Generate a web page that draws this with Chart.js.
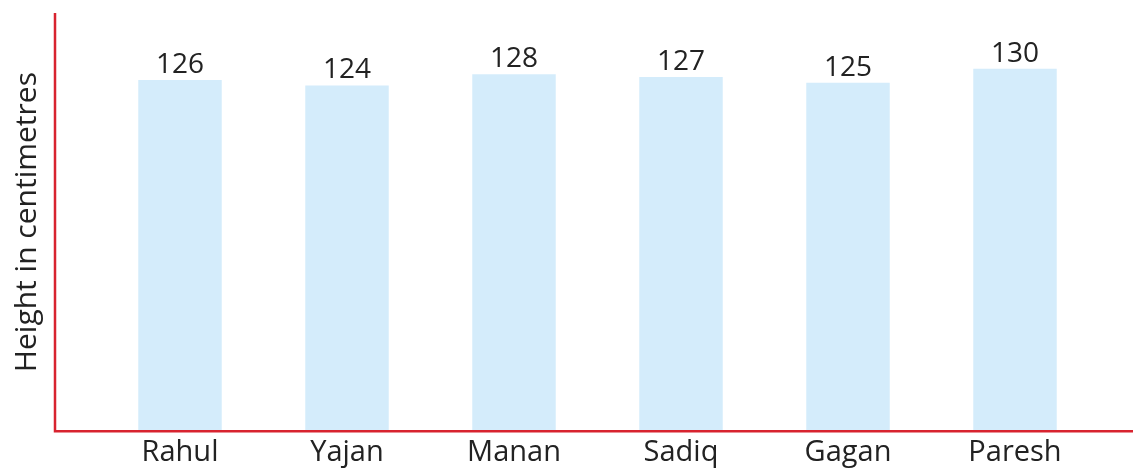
<!DOCTYPE html>
<html lang="en">
<head>
  <meta charset="UTF-8" />
  <title>Height of students</title>
  <script src="https://cdn.jsdelivr.net/npm/chart.js"></script>
  <style>
    html, body { margin: 0; padding: 0; background: #fff; }
    #wrap { width: 1133px; height: 475px; }
  </style>
</head>
<body>
  <div id="wrap"><canvas id="heightChart"></canvas></div>

  <script>
    const names = ['Rahul', 'Yajan', 'Manan', 'Sadiq', 'Gagan', 'Paresh'];
    const heights = [126, 124, 128, 127, 125, 130];
    const yTitle = 'Height in centimetres';

    const FONT = "'Open Sans', 'DejaVu Sans', sans-serif";
    const RED = '#d8232f';

    // red L-shaped axes, drawn a bit left of the plot like the book figure
    const redAxes = {
      id: 'redAxes',
      afterDraw(chart) {
        const { ctx, chartArea } = chart;
        const x0 = chartArea.left - 41.5;
        ctx.save();
        ctx.strokeStyle = RED;
        ctx.lineWidth = 2.5;
        ctx.beginPath();
        ctx.moveTo(x0, chartArea.top);
        ctx.lineTo(x0, chartArea.bottom);
        ctx.lineTo(chart.width, chartArea.bottom);
        ctx.stroke();
        ctx.restore();
      }
    };

    // value above each bar
    const barValues = {
      id: 'barValues',
      afterDatasetsDraw(chart) {
        const { ctx } = chart;
        const meta = chart.getDatasetMeta(0);
        ctx.save();
        ctx.font = '28px ' + FONT;
        ctx.fillStyle = '#222';
        ctx.textAlign = 'center';
        ctx.textBaseline = 'alphabetic';
        meta.data.forEach((bar, i) => {
          ctx.fillText(String(heights[i]), bar.x, bar.y - 7);
        });
        ctx.restore();
      }
    };

    new Chart(document.getElementById('heightChart'), {
      type: 'bar',
      data: {
        labels: names,
        datasets: [{
          data: heights,
          backgroundColor: '#d4ecfb',
          borderWidth: 0,
          barPercentage: 0.5,
          categoryPercentage: 1
        }]
      },
      options: {
        responsive: true,
        maintainAspectRatio: false,
        animation: false,
        layout: { padding: { top: 13, right: 34.5, left: 5, bottom: 0 } },
        plugins: {
          legend: { display: false },
          tooltip: { enabled: false }
        },
        scales: {
          x: {
            grid: { display: false, drawTicks: false },
            border: { display: false },
            ticks: {
              color: '#222',
              padding: 4.5,
              font: { family: FONT, size: 29 }
            }
          },
          y: {
            min: 0,
            max: 150,
            grid: { display: false, drawTicks: false },
            border: { display: false },
            ticks: { display: false },
            title: {
              display: true,
              text: yTitle,
              color: '#222',
              padding: { top: 4, bottom: 51.5 },
              font: { family: FONT, size: 30 }
            }
          }
        }
      },
      plugins: [redAxes, barValues]
    });
  </script>
</body>
</html>
